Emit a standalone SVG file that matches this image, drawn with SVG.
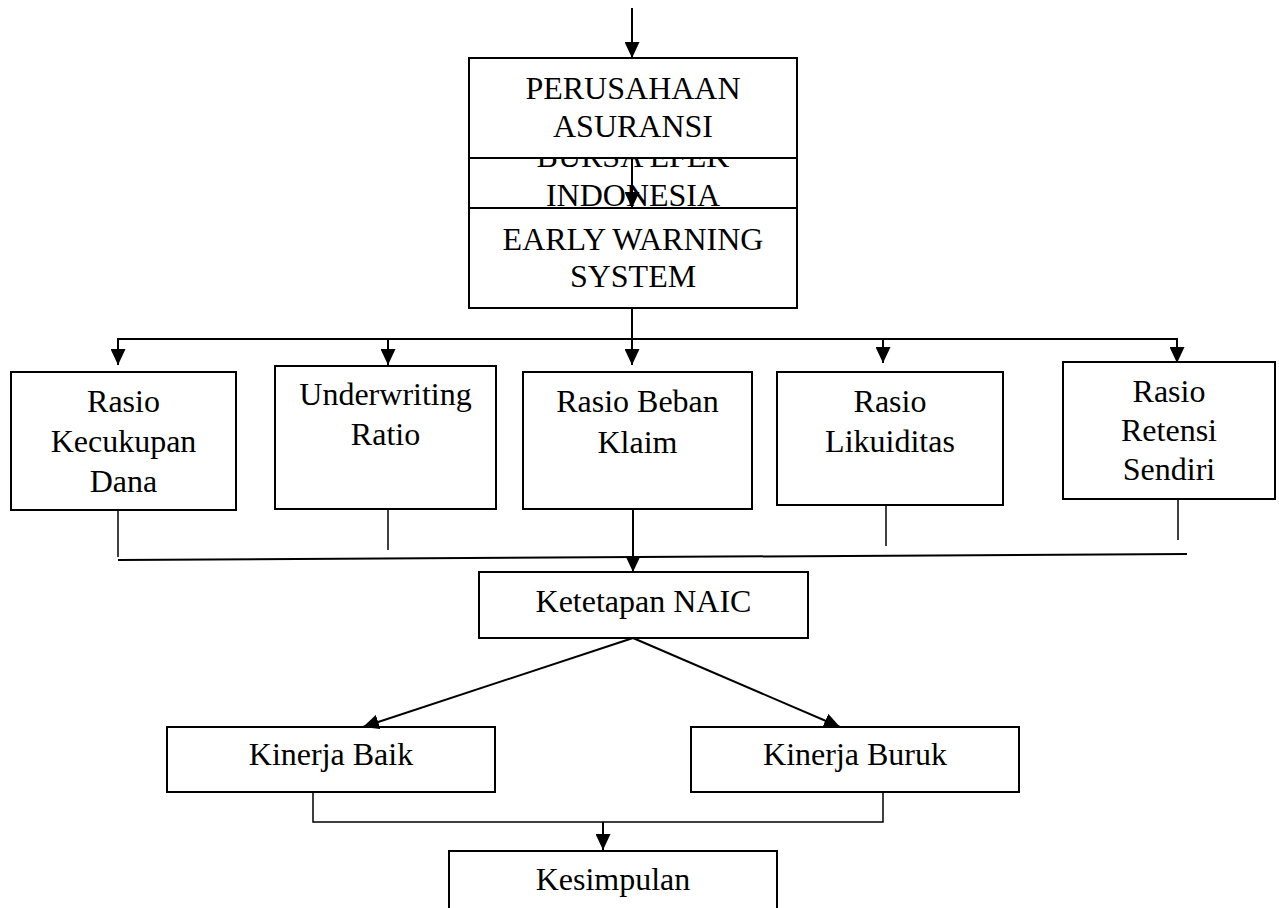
<svg xmlns="http://www.w3.org/2000/svg" width="1279" height="908" viewBox="0 0 1279 908">
<style>
.box{fill:#fff;stroke:#000;stroke-width:2}
.t{font-family:"Liberation Serif","Times New Roman",serif;font-size:32px;fill:#000;text-anchor:middle}
.c{fill:none;stroke:#000;stroke-width:2}
.s{fill:none;stroke:#000;stroke-width:1.5}
</style>
<defs>
<marker id="ah" markerUnits="userSpaceOnUse" markerWidth="16" markerHeight="15" refX="16" refY="7.5" orient="auto" viewBox="0 0 16 15">
<path d="M0,0 L16,7.5 L0,15 z" fill="#000"/>
</marker>
<clipPath id="bursaClip"><rect x="469" y="159" width="328" height="49"/></clipPath>
</defs>
<rect width="1279" height="908" fill="#fff"/>
<g id="bursa">
<rect class="box" x="469" y="158" width="328" height="50"/>
<g clip-path="url(#bursaClip)">
<text class="t" x="633" y="167">BURSA EFEK</text>
<text class="t" x="633" y="206">INDONESIA</text>
</g>
</g>
<g id="perusahaan">
<rect class="box" x="469" y="58" width="328" height="100"/>
<text class="t" x="633" y="99">PERUSAHAAN</text>
<text class="t" x="633" y="137">ASURANSI</text>
</g>
<g id="ews">
<rect class="box" x="469" y="208" width="328" height="100"/>
<text class="t" x="633" y="250">EARLY WARNING</text>
<text class="t" x="633" y="287">SYSTEM</text>
</g>
<g id="rkd">
<rect class="box" x="11" y="372" width="225" height="138"/>
<text class="t" x="123.5" y="412">Rasio</text>
<text class="t" x="123.5" y="452">Kecukupan</text>
<text class="t" x="123.5" y="492">Dana</text>
</g>
<g id="ur">
<rect class="box" x="275" y="366" width="221" height="143"/>
<text class="t" x="385.5" y="405">Underwriting</text>
<text class="t" x="385.5" y="445">Ratio</text>
</g>
<g id="rbk">
<rect class="box" x="523" y="372" width="229" height="137"/>
<text class="t" x="637.5" y="412">Rasio Beban</text>
<text class="t" x="637.5" y="453">Klaim</text>
</g>
<g id="rl">
<rect class="box" x="777" y="372" width="226" height="133"/>
<text class="t" x="890" y="412">Rasio</text>
<text class="t" x="890" y="452">Likuiditas</text>
</g>
<g id="rrs">
<rect class="box" x="1063" y="362" width="212" height="137"/>
<text class="t" x="1169" y="402">Rasio</text>
<text class="t" x="1169" y="441">Retensi</text>
<text class="t" x="1169" y="480">Sendiri</text>
</g>
<g id="naic">
<rect class="box" x="479" y="572" width="329" height="66"/>
<text class="t" x="643.5" y="612">Ketetapan NAIC</text>
</g>
<g id="baik">
<rect class="box" x="167" y="727" width="328" height="65"/>
<text class="t" x="331" y="765">Kinerja Baik</text>
</g>
<g id="buruk">
<rect class="box" x="691" y="727" width="328" height="65"/>
<text class="t" x="855" y="765">Kinerja Buruk</text>
</g>
<g id="kesimpulan">
<rect class="box" x="449" y="851" width="328" height="70"/>
<text class="t" x="613" y="890">Kesimpulan</text>
</g>
<g id="connectors">
<line class="c" x1="632" y1="8" x2="632" y2="58" marker-end="url(#ah)"/>
<line class="c" x1="632" y1="158" x2="632" y2="208" marker-end="url(#ah)"/>
<line class="c" x1="632" y1="308" x2="632" y2="339"/>
<line class="c" x1="117" y1="339" x2="1178" y2="339"/>
<line class="c" x1="118" y1="339" x2="118" y2="365" marker-end="url(#ah)"/>
<line class="c" x1="388" y1="339" x2="388" y2="365" marker-end="url(#ah)"/>
<line class="c" x1="632" y1="339" x2="632" y2="365" marker-end="url(#ah)"/>
<line class="c" x1="883" y1="339" x2="883" y2="363" marker-end="url(#ah)"/>
<line class="c" x1="1177" y1="339" x2="1177" y2="363" marker-end="url(#ah)"/>
<line class="s" x1="118" y1="510" x2="118" y2="557"/>
<line class="s" x1="388" y1="509" x2="388" y2="550"/>
<line class="s" x1="886" y1="505" x2="886" y2="546"/>
<line class="s" x1="1178" y1="499" x2="1178" y2="540"/>
<line class="c" x1="633" y1="509" x2="633" y2="572" marker-end="url(#ah)"/>
<line class="c" x1="118" y1="560" x2="1187" y2="554"/>
<line class="c" x1="633" y1="638" x2="363" y2="727" marker-end="url(#ah)"/>
<line class="c" x1="633" y1="638" x2="840" y2="727" marker-end="url(#ah)"/>
<polyline class="s" points="313,792 313,822 883,822 883,792"/>
<line class="c" x1="603" y1="822" x2="603" y2="850" marker-end="url(#ah)"/>
</g>
</svg>
